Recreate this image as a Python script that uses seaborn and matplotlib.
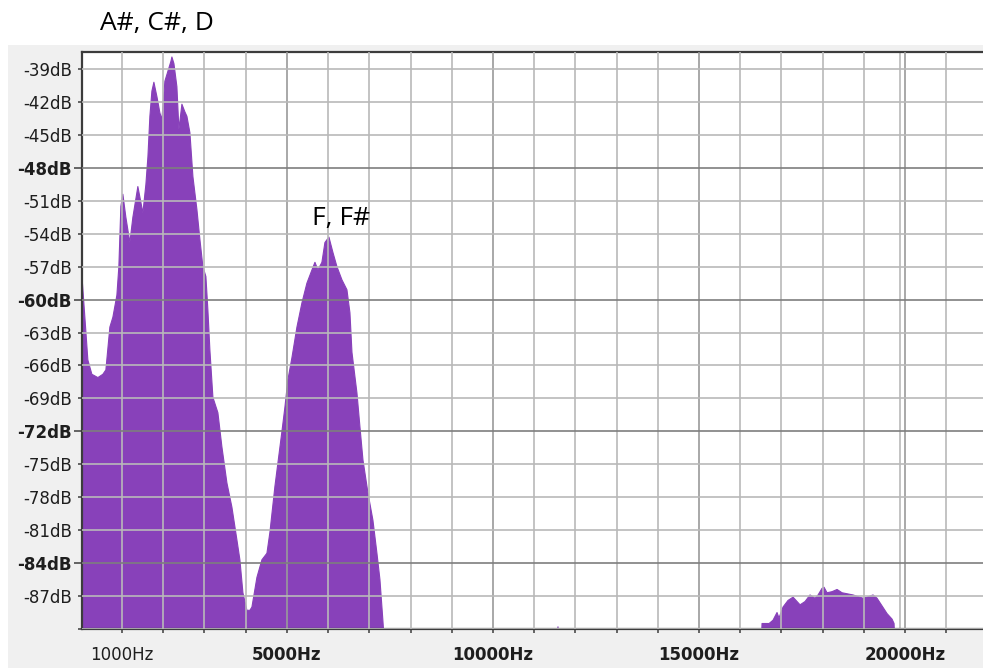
import matplotlib
matplotlib.use('Agg')
import matplotlib.pyplot as plt
import matplotlib.patches as mpatches
import seaborn as sns
import pandas as pd

# spectrum (Hz, dB); -92/-95 = below the visible floor
freq_hz = [25, 97, 170, 267, 413, 534, 607, 704, 777, 874,
           922, 971, 1019, 1092, 1189, 1262, 1383, 1505, 1578, 1627,
           1675, 1724, 1772, 1845, 1918, 1966, 2039, 2112, 2185, 2209,
           2258, 2330, 2379, 2452, 2524, 2573, 2646, 2719, 2816, 2888,
           2961, 3034, 3083, 3131, 3204, 3325, 3422, 3544, 3665, 3787,
           3859, 3932, 4029, 4102, 4151, 4272, 4393, 4515, 4587, 4709,
           4879, 4951, 5024, 5121, 5243, 5364, 5485, 5607, 5680, 5752,
           5849, 5922, 6019, 6116, 6214, 6335, 6456, 6529, 6578, 6699,
           6772, 6845, 6966, 7087, 7184, 7257, 7330, 7378,
           11540, 11577, 11620,
           16480, 16528, 16700, 16795, 16892, 16940, 17038, 17159, 17281, 17451,
           17572, 17693, 17815, 17888, 17984, 18033, 18106, 18227, 18349, 18470,
           18737, 18980, 19077, 19222, 19319, 19441, 19562, 19683, 19732, 19790]
level_db = [-57.8, -61.6, -65.5, -66.8, -67.1, -66.8, -66.4, -62.5, -61.6, -59.6,
            -57.0, -51.5, -50.4, -52.5, -54.8, -52.5, -49.7, -52.1, -49.5, -47.0,
            -43.3, -41.0, -40.2, -41.5, -43.0, -43.6, -40.1, -39.2, -38.3, -37.9,
            -38.5, -40.6, -44.5, -42.2, -42.9, -43.3, -44.8, -48.8, -51.8, -54.5,
            -57.0, -57.9, -61.0, -64.6, -68.9, -70.3, -73.4, -76.7, -78.9, -81.9,
            -83.7, -86.7, -88.3, -88.3, -88.0, -85.3, -83.7, -83.1, -81.2, -77.0,
            -72.0, -69.8, -67.3, -65.3, -62.5, -60.3, -58.5, -57.3, -56.6, -57.3,
            -56.6, -54.8, -54.3, -55.7, -57.0, -58.2, -59.1, -61.2, -64.8, -68.5,
            -71.6, -74.6, -77.6, -80.1, -83.1, -85.5, -89.3, -92.0,
            -95, -89.8, -95,
            -95, -89.5, -89.5, -89.2, -88.5, -89.0, -88.0, -87.4, -87.1, -87.8,
            -87.5, -86.9, -87.2, -86.9, -86.3, -86.2, -86.7, -86.6, -86.4, -86.7,
            -86.9, -87.2, -87.1, -86.9, -87.2, -87.9, -88.6, -89.1, -89.5, -95]

db_ticks = list(range(-90, -38, 3))
hz_ticks = list(range(1000, 22000, 1000))
label_low = 'A#, C#, D'
label_mid = 'F, F#'

purple = '#8841BA'
dark = '#3c3c3c'

sns.set_theme(style='white')
plt.rcParams['font.family'] = ['DejaVu Sans']

fig = plt.figure(figsize=(9.83, 6.68), dpi=100)
fig.patch.set_facecolor('white')
# grey window panel behind the plot
fig.add_artist(mpatches.Rectangle((8 / 983, 0), 1, 623 / 668, transform=fig.transFigure,
                                  facecolor='#f0f0f0', edgecolor='none', zorder=-10))

ax = fig.add_axes([0.0831, 0.0584, 0.9169, 0.8645])
ax.set_facecolor('white')

df = pd.DataFrame({'Hz': freq_hz, 'dB': level_db})
ax.fill_between(df['Hz'], df['dB'], -100, color=purple, lw=0, zorder=1)
sns.lineplot(data=df, x='Hz', y='dB', color=purple, lw=0.8, ax=ax, zorder=1.5)

ax.set_xlim(20, 21890)
ax.set_ylim(-90, -37.4)

# ticks: major = bold labels, minor = normal
y_major = [v for v in db_ticks if v % 12 == 0]
y_minor = [v for v in db_ticks if v % 12 != 0]
x_major = [v for v in hz_ticks if v % 5000 == 0]
x_minor = [v for v in hz_ticks if v % 5000 != 0]

ax.set_yticks(y_major, [f'{v}dB' for v in y_major])
ax.set_yticks(y_minor, ['' if v == -90 else f'{v}dB' for v in y_minor], minor=True)
ax.set_xticks(x_major, [f'{v}Hz' for v in x_major])
ax.set_xticks(x_minor, [f'{v}Hz' if v == 1000 else '' for v in x_minor], minor=True)

for lbl in ax.get_yticklabels(which='major') + ax.get_xticklabels(which='major'):
    lbl.set_fontweight('bold')

ax.tick_params(which='both', left=True, bottom=True, direction='out', color=dark,
               width=1.1, labelsize=12, labelcolor='#1e1e1e')
ax.tick_params(axis='y', which='major', length=6, pad=1)
ax.tick_params(axis='y', which='minor', length=3, pad=4)
ax.tick_params(axis='x', which='both', length=3, pad=9)

ax.set_axisbelow(False)
ax.grid(which='minor', color='#b9b9b9', lw=1.2)
ax.yaxis.grid(which='major', color='#7e7e7e', lw=1.2)
ax.xaxis.grid(which='major', color='#9a9a9a', lw=1.2)
ax.axvline(19880, color='#b9b9b9', lw=1.2, zorder=2.5)

ax.set_xlabel('')
ax.set_ylabel('')
for side in ['left', 'top', 'bottom']:
    ax.spines[side].set_color(dark)
    ax.spines[side].set_linewidth(1.6)
ax.spines['right'].set_visible(False)

fig.text(100 / 983, 1 - 30 / 668, label_low, family='Open Sans', fontsize=19,
         color='black', va='baseline', ha='left')
ax.text(5600, -53.2, label_mid, family='Open Sans', fontsize=19,
        color='black', va='baseline', ha='left', zorder=5)

fig.savefig('out.png', dpi=100)
